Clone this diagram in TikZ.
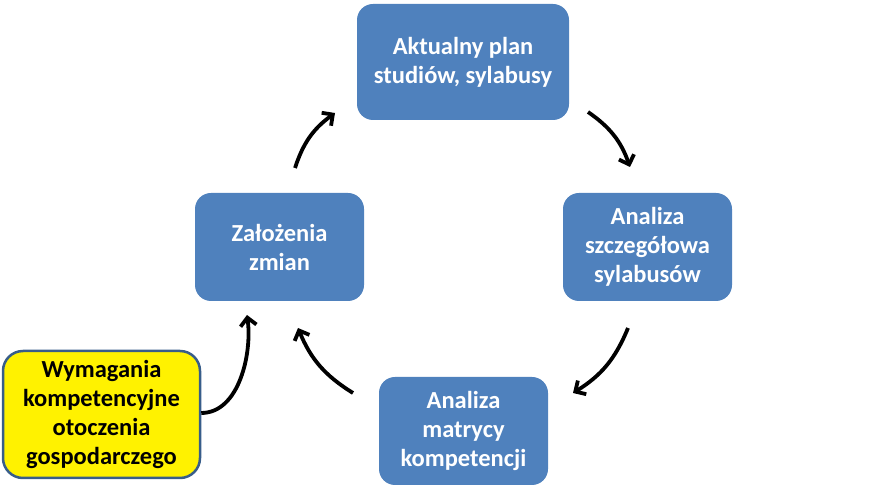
\documentclass[tikz,border=0pt]{standalone}
\usepackage{fontspec}
\setmainfont{Carlito}
\usepackage{tikz}
\usetikzlibrary{arrows.meta, positioning}
\definecolor{stepBlue}{RGB}{79, 129, 189}
\definecolor{stepEdge}{RGB}{56, 93, 138}

\begin{document}
\begin{tikzpicture}[
    x=1pt, y=1pt,
    stage/.style={rectangle, rounded corners=16pt, fill=stepBlue, text=white, align=center,
        inner sep=0pt, minimum width=169pt, minimum height=108pt, font=\fontsize{24.5}{29}\selectfont\bfseries},
    input/.style={rectangle, rounded corners=20pt, draw=stepEdge, line width=2.5pt, fill=yellow, text=black,
        align=center, inner sep=0pt, minimum width=197pt, minimum height=127pt, font=\fontsize{24.5}{28.7}\selectfont\bfseries},
    arrow/.style={-{Straight Barb[length=8pt, width=16pt, line width=3.8pt]}, line width=3.8pt, black}
]
    \useasboundingbox (0,0) rectangle (872,489);

    % Cycle stages
    \node[stage, minimum width=212pt, minimum height=116pt] (plan) at (463,427) {Aktualny plan\\studiów, sylabusy};
    \node[stage] (analiza) at (647.5,242) {Analiza\\szczegółowa\\sylabusów};
    \node[stage] (matryca) at (463.5,58) {Analiza\\matrycy\\kompetencji};
    \node[stage] (zmiany) at (279.5,242) {Założenia\\zmian};
    \node[input] (wymagania) at (101.5,74.5) {Wymagania\\kompetencyjne\\otoczenia\\gospodarczego};

    % Arrow ends
    \coordinate (a1s) at (295,321);
    \coordinate (a1e) at (335,376);
    \coordinate (a2s) at (588,377);
    \coordinate (a2e) at (630,322);
    \coordinate (a3s) at (628,161);
    \coordinate (a3e) at (573,96);
    \coordinate (a4s) at (353,96);
    \coordinate (a4e) at (298,161);
    \coordinate (a5e) at (247,174);

    % Arrows
    \draw[arrow] (a1s) to[bend left=18] (a1e);
    \draw[arrow] (a2s) to[bend left=18] (a2e);
    \draw[arrow] (a3s) to[bend left=18] (a3e);
    \draw[arrow] (a4s) to[bend left=18] (a4e);
    \draw[arrow] ([yshift=1.5pt]wymagania.east) to[out=0, in=-82, looseness=0.9] (a5e);

\end{tikzpicture}
\end{document}
